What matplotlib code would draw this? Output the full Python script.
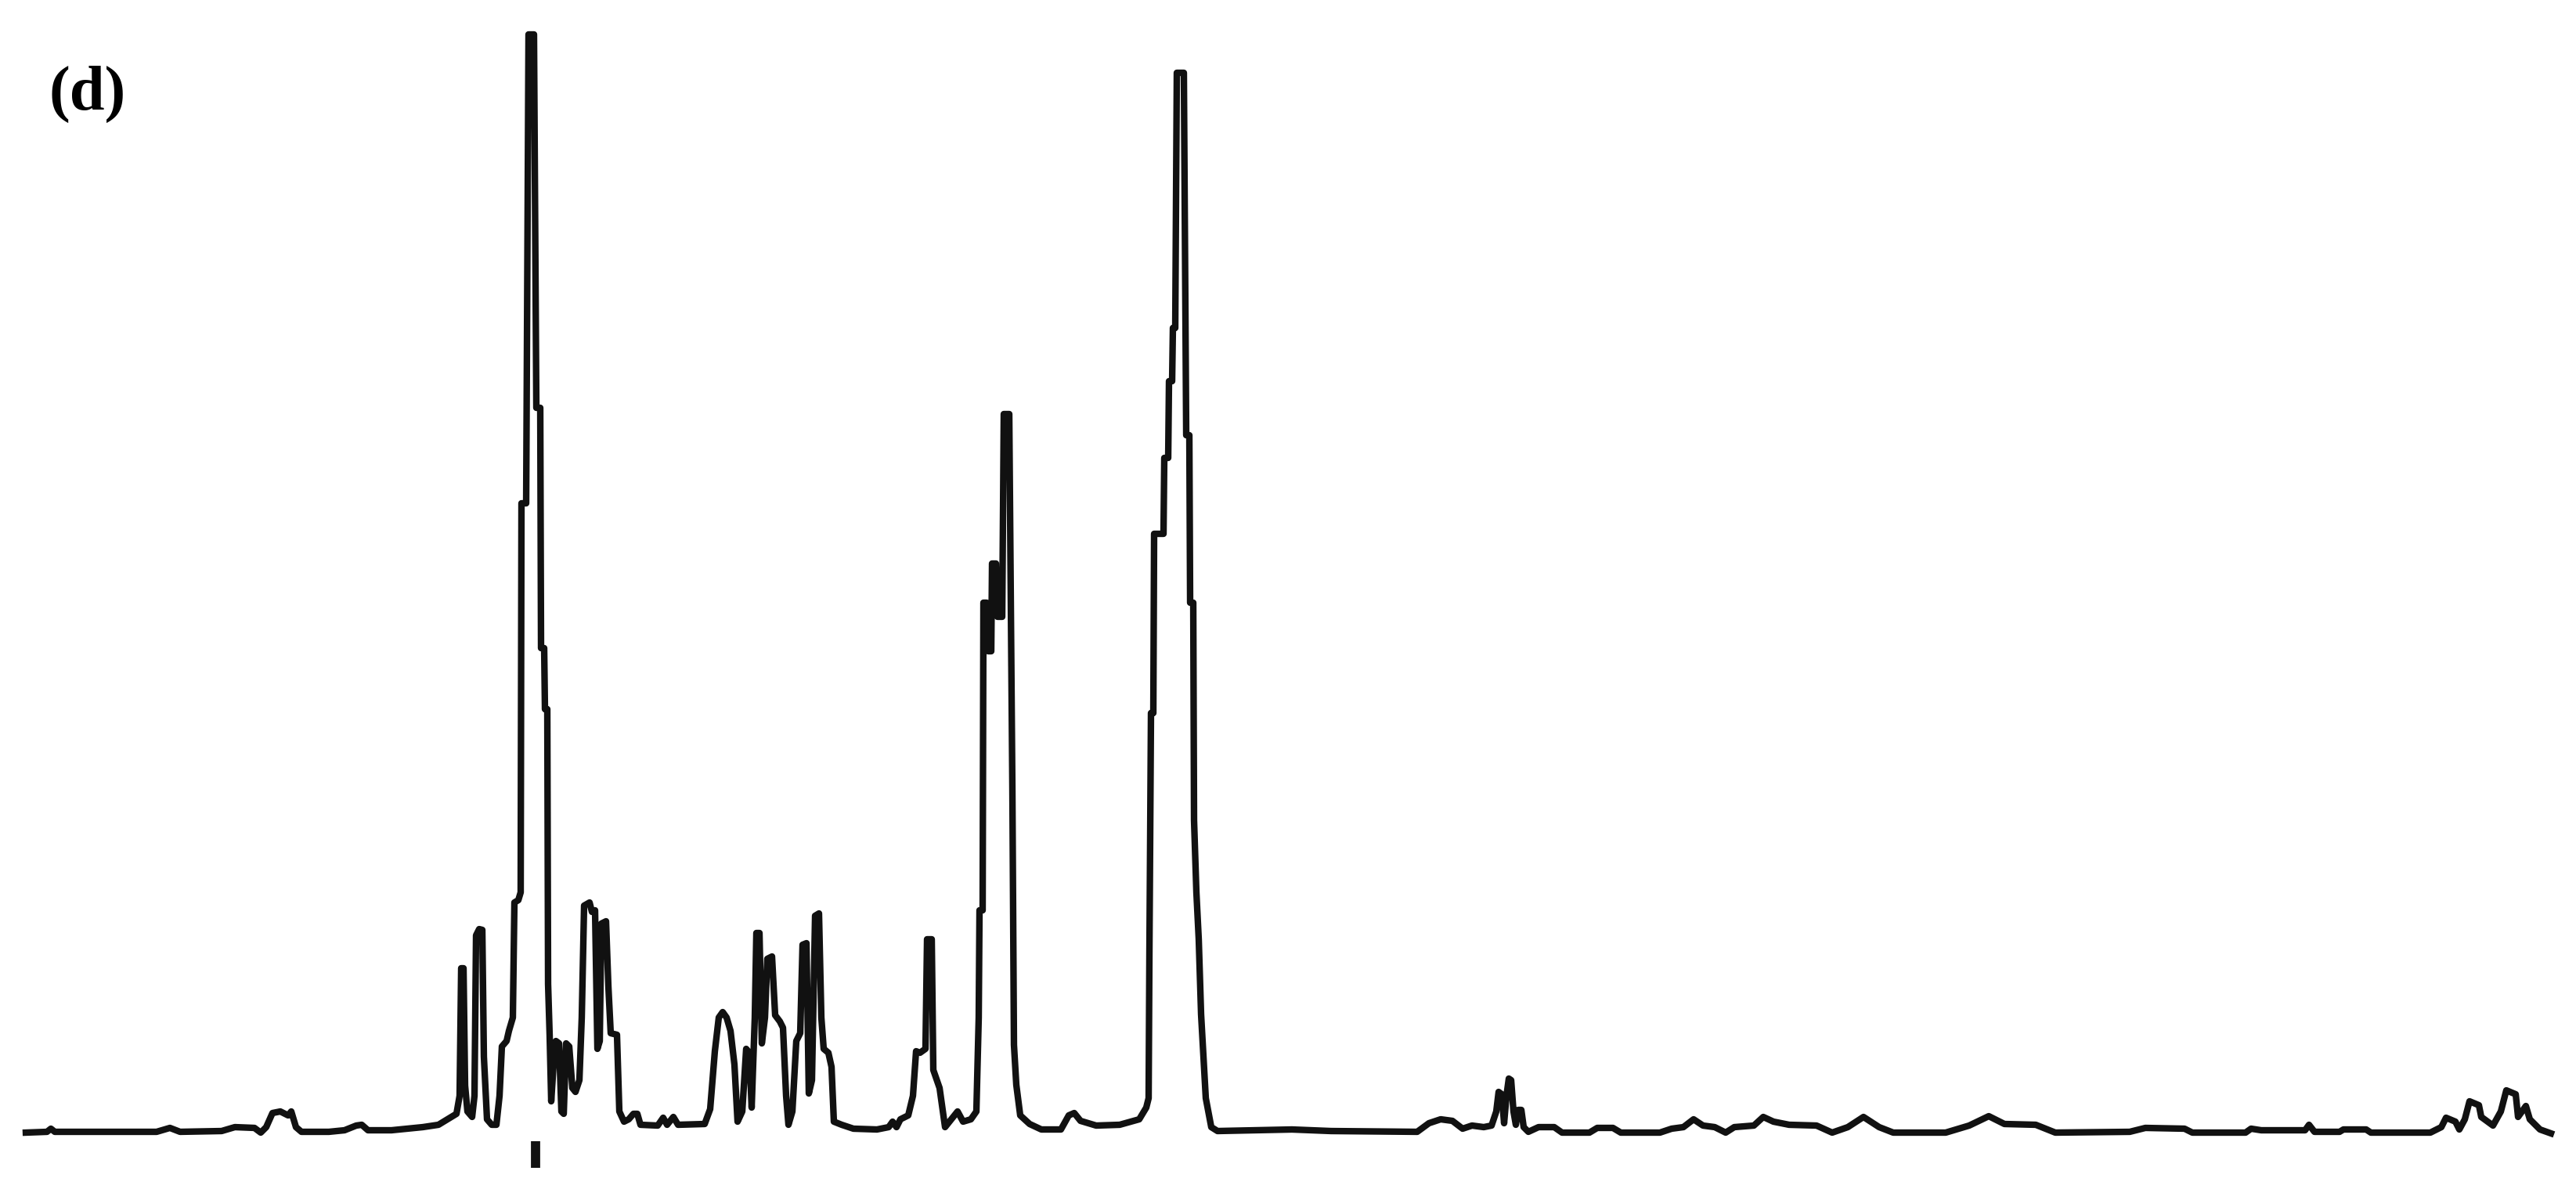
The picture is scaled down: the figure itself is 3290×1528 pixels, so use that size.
import matplotlib
matplotlib.use("Agg")
import matplotlib.pyplot as plt

# trace: position (px along the axis) and intensity above baseline
pos = [33, 60, 65, 70, 200, 217, 230, 283, 300, 325, 333, 340, 348, 358, 368, 372, 378, 385,
       420, 440, 455, 462, 470, 500, 540, 560, 583, 587, 589, 592, 594, 597, 603, 606, 608, 612,
       616, 618, 622, 628, 634, 638, 641, 647, 650, 655, 657, 662, 665, 666, 672, 675, 682, 685,
       690, 691, 695, 696, 699, 700, 702, 704, 707, 710, 714, 717, 720, 723, 727, 731, 735, 740,
       743, 746, 753, 756, 760, 763, 766, 768, 774, 777, 780, 788, 791, 797, 803, 809, 814, 818,
       840, 847, 852, 860, 866, 900, 907, 913, 918, 923, 928, 933, 938, 942, 948, 953, 957, 960,
       964, 966, 970, 973, 977, 980, 986, 990, 996, 1000, 1004, 1007, 1012, 1017, 1022, 1025,
       1030, 1033, 1037, 1041, 1046, 1049, 1052, 1058, 1062, 1065, 1075, 1090, 1120, 1135, 1140,
       1145, 1150, 1160, 1166, 1170, 1175, 1182, 1184, 1190, 1192, 1200, 1207, 1215, 1223, 1230,
       1240, 1247, 1250, 1251, 1255, 1256, 1260, 1262, 1266, 1267, 1272, 1274, 1280, 1282, 1289,
       1291, 1293, 1295, 1298, 1303, 1315, 1330, 1355, 1365, 1372, 1380, 1400, 1430, 1455, 1464,
       1467, 1468, 1470, 1473, 1474, 1486, 1487, 1492, 1493, 1497, 1498, 1501, 1503, 1512, 1515,
       1519, 1520, 1524, 1525, 1528, 1531, 1534, 1540, 1547, 1555, 1650, 1700, 1810, 1825, 1840,
       1855, 1868, 1880, 1895, 1905, 1911, 1914, 1918, 1921, 1924, 1927, 1930, 1933, 1936, 1939,
       1943, 1946, 1952, 1965, 1985, 1995, 2030, 2040, 2060, 2070, 2120, 2135, 2150, 2163, 2175,
       2190, 2204, 2215, 2240, 2252, 2265, 2285, 2320, 2340, 2360, 2380, 2400, 2418, 2485, 2515,
       2540, 2560, 2600, 2625, 2720, 2740, 2790, 2800, 2868, 2875, 2888, 2944, 2949, 2956, 2988,
       2993, 3022, 3028, 3104, 3118, 3124, 3136, 3141, 3148, 3154, 3166, 3169, 3184, 3194, 3201,
       3213, 3216, 3226, 3231, 3244, 3258]
inten = [-2, -1, 3, -1, -1, 4, -1, 0, 5, 4, -2, 5, 23, 25, 20, 25, 5, -1,
         -1, 1, 7, 8, 1, 1, 5, 8, 22, 45, 208, 208, 58, 25, 18, 45, 250, 258,
         257, 95, 15, 8, 8, 45, 108, 115, 128, 145, 292, 295, 305, 802, 802, 1401, 1401, 924,
         924, 617, 617, 539, 539, 188, 122, 38, 85, 115, 112, 25, 22, 112, 108, 55, 50, 65,
         145, 288, 292, 280, 282, 105, 115, 265, 268, 185, 125, 123, 25, 12, 15, 22, 22, 8,
         7, 17, 8, 18, 8, 9, 28, 102, 145, 152, 145, 128, 85, 12, 25, 105, 100, 30,
         145, 253, 253, 112, 145, 220, 223, 148, 140, 132, 45, 8, 25, 115, 125, 238,
         240, 48, 65, 275, 278, 145, 105, 100, 82, 12, 8, 3, 2, 5, 12,
         5, 15, 20, 45, 102, 100, 105, 245, 245, 78, 55, 5, 15, 25, 12,
         15, 25, 145, 282, 282, 675, 675, 613, 613, 725, 725, 657, 657, 916, 916,
         671, 434, 110, 59, 20, 9, 2, 2, 20, 23, 13, 7, 8, 15, 30,
         42, 227, 534, 534, 763, 763, 860, 860, 958, 958, 1026, 1026, 1352, 1352, 889,
         889, 675, 675, 397, 305, 245, 149, 42, 5, 0, 2, 0, -1, 10, 15,
         13, 3, 7, 5, 7, 25, 50, 47, 10, 45, 67, 65, 25, 8, 27,
         27, 5, -1, 5, 5, -2, -2, 4, 4, -2, -2, 3, 5, 15, 7,
         5, -2, 5, 7, 18, 12, 8, 7, -2, 5, 18, 5, -2, -2, 7,
         19, 9, 8, -2, -1, 4, 3, -2, -2, 3, 1, 1, 8, -1, -1,
         2, 2, -2, -2, 5, 17, 12, 2, 15, 38, 33, 18, 7, 25, 52,
         47, 18, 32, 15, 2, -3]

# small tick under the main peak
tick_pos = [684]
tick_lo = [-47]
tick_hi = [-13]

fig = plt.figure(figsize=(32.91, 15.28), dpi=100)
ax = fig.add_axes([0, 0, 1, 1])

ax.plot(pos, inten, color="#111111", lw=6, solid_joinstyle="round")
ax.vlines(tick_pos, tick_lo, tick_hi, color="#111111", lw=8.5)

ax.set_xlim(0, 3291)
ax.set_ylim(-83, 1445)
ax.axis("off")

fig.text(63 / 3291, 1 - 140 / 1528, "(d)", family="Liberation Serif",
         fontsize=58, fontweight="bold", ha="left", va="baseline")

fig.savefig("out.png", dpi=100, facecolor="white")
